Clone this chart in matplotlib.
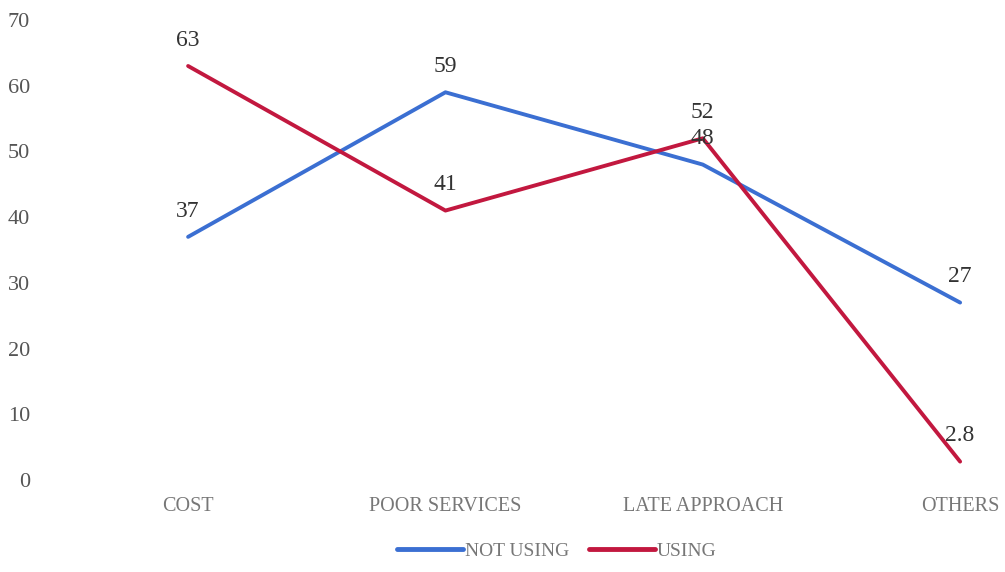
import matplotlib
matplotlib.use("Agg")
import matplotlib.pyplot as plt

categories = ["COST", "POOR SERVICES", "LATE APPROACH", "OTHERS"]
not_using = [37, 59, 48, 27]
using = [63, 41, 52, 2.8]
yticks = [0, 10, 20, 30, 40, 50, 60, 70]

plt.rcParams["font.family"] = ["Liberation Serif", "DejaVu Serif"]

fig = plt.figure(figsize=(10.05, 5.72), dpi=100)
ax = fig.add_axes([44 / 1005, 92 / 572, 956 / 1005, 460 / 572])

x = list(range(len(categories)))
blue = "#3b6fd2"
red = "#c2183f"
ax.plot(x, not_using, color=blue, lw=2.8, label="NOT USING", solid_capstyle="round", clip_on=False)
ax.plot(x, using, color=red, lw=2.8, label="USING", solid_capstyle="round", clip_on=False)

# data labels sit above each point
for xi, v in zip(x, not_using):
    ax.annotate(f"{v:g}", (xi, v), xytext=(0, 11), textcoords="offset points",
                ha="center", va="bottom", fontsize=17, color="#333333")
for xi, v in zip(x, using):
    ax.annotate(f"{v:g}", (xi, v), xytext=(0, 11), textcoords="offset points",
                ha="center", va="bottom", fontsize=17, color="#333333")

ax.set_xlim(-0.56, 3.155)
ax.set_ylim(0, 70)
ax.set_yticks(yticks)
ax.set_xticks(x)
ax.set_xticklabels(categories)
ax.tick_params(axis="y", length=0, pad=10, labelsize=16, labelcolor="#555555")
ax.tick_params(axis="x", length=0, pad=12, labelsize=14.5, labelcolor="#777777")
for s in ax.spines.values():
    s.set_visible(False)

leg = fig.legend(loc="lower center", bbox_to_anchor=(557 / 1005, -0.01), ncol=2,
                 frameon=False, fontsize=14, handlelength=3.4, handletextpad=0.1,
                 columnspacing=1.0)
for line in leg.get_lines():
    line.set_linewidth(3.5)
for t in leg.get_texts():
    t.set_color("#777777")

fig.savefig("out.png", dpi=100)
